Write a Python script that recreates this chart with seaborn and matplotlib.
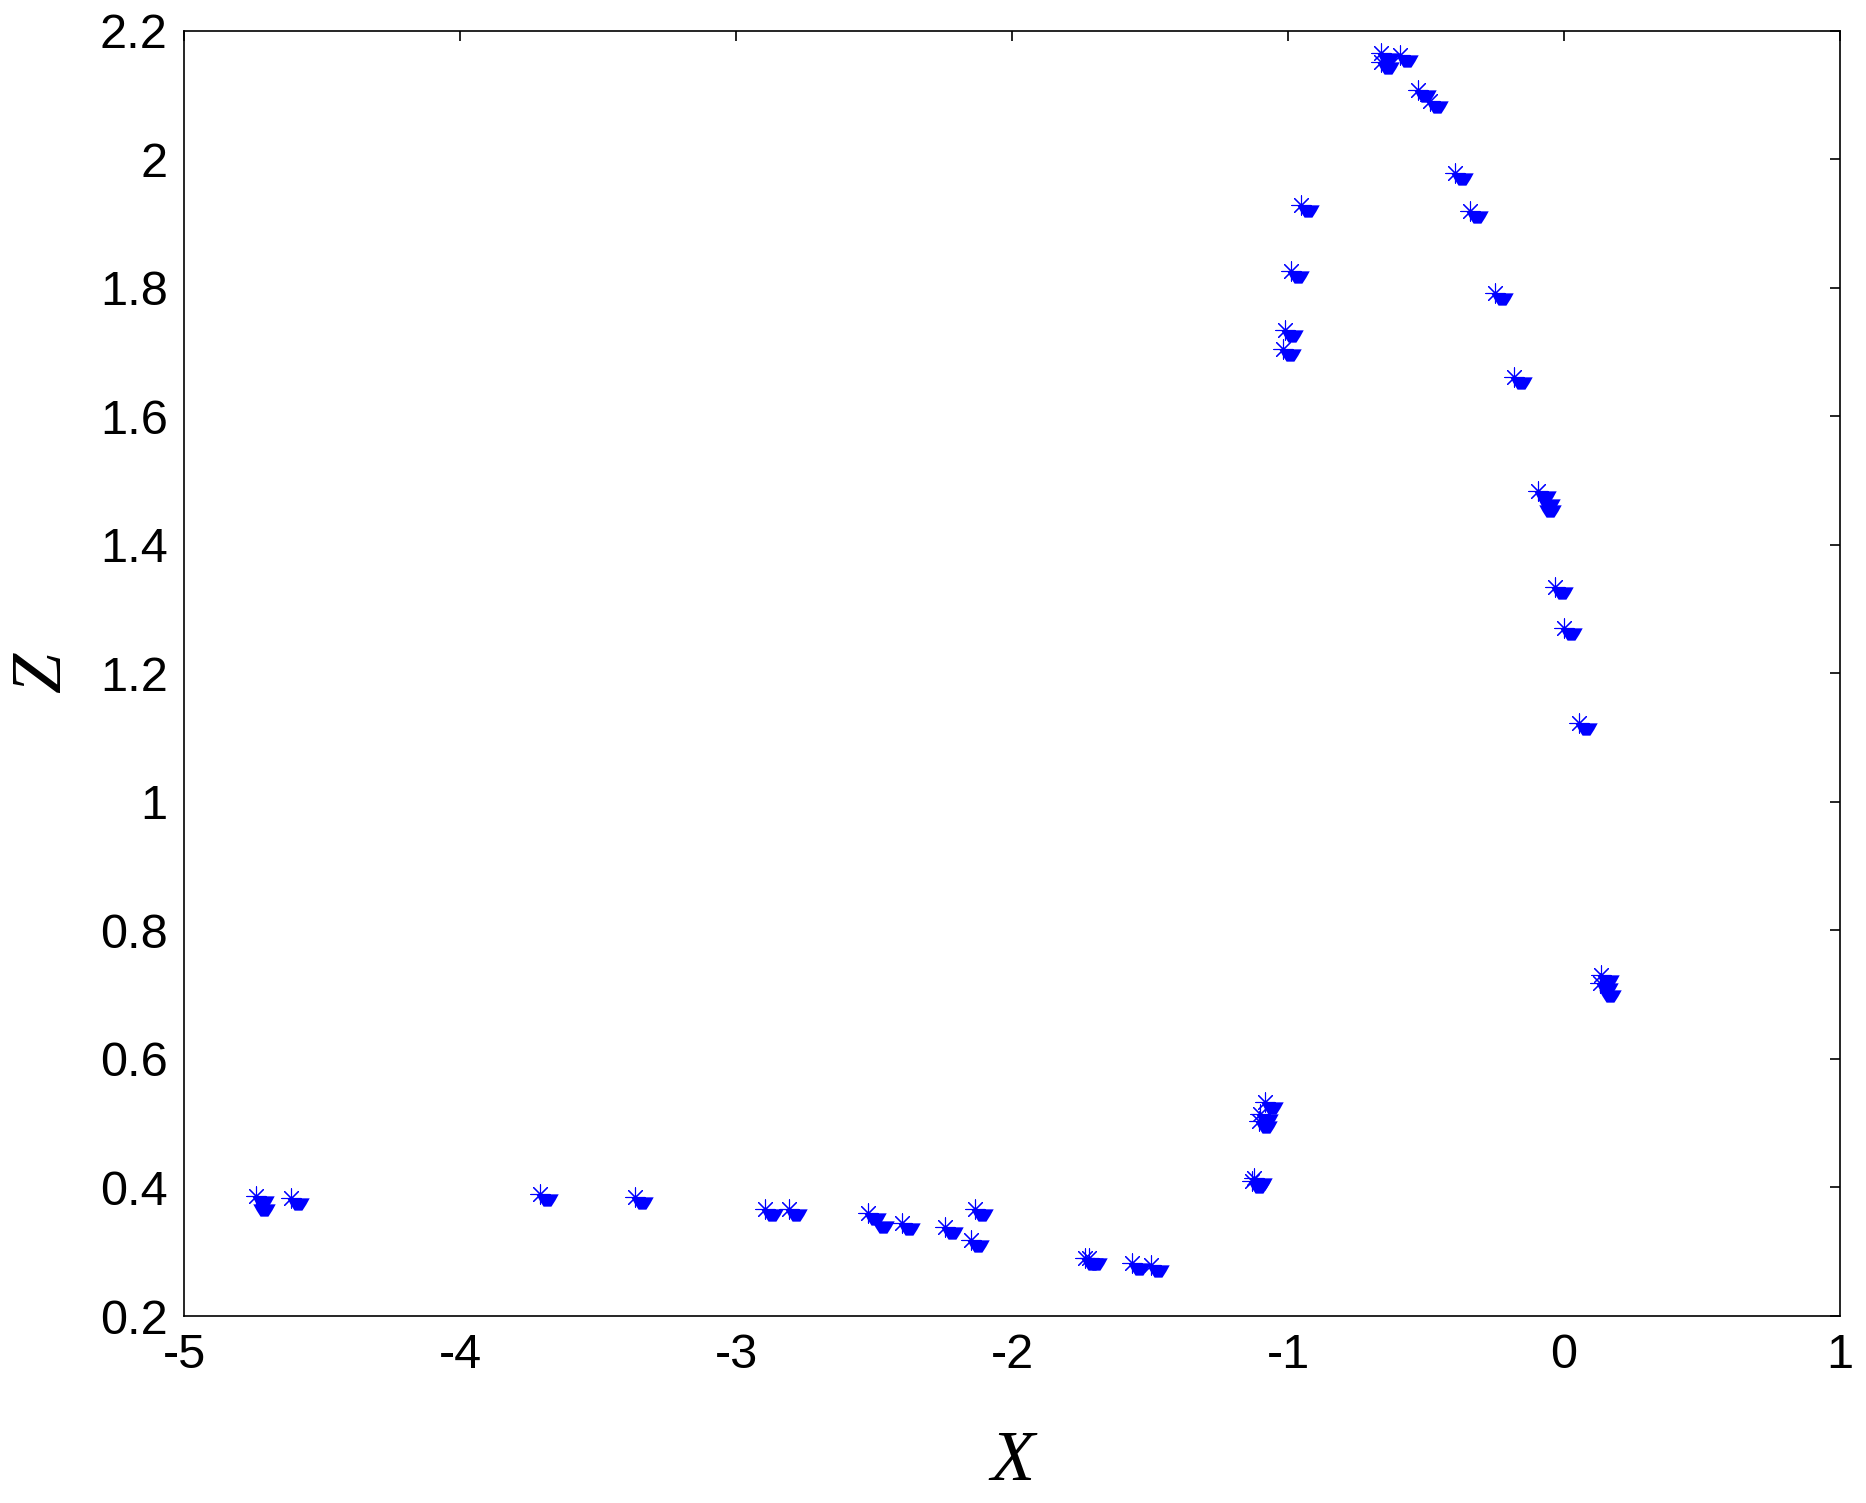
import numpy as np
import matplotlib
matplotlib.use('Agg')
import matplotlib.pyplot as plt
import matplotlib.transforms as mtransforms
import seaborn as sns

x_star = [-4.740, -4.614, -3.712, -3.367, -2.895, -2.810, -2.522, -2.398, -2.244,
          -2.135, -2.150, -1.735, -1.720, -1.566, -1.497, -1.124, -1.132,
          -1.106, -1.100, -1.082, -1.019, -1.010, -0.988, -0.954,
          -0.664, -0.664, -0.594, -0.528, -0.487, -0.396, -0.340, -0.250,
          -0.181, -0.094, -0.034, 0.000, 0.056, 0.136, 0.131]
z_star = [0.386, 0.384, 0.390, 0.385, 0.367, 0.367, 0.361, 0.344, 0.338,
          0.367, 0.319, 0.290, 0.291, 0.283, 0.279, 0.414, 0.410,
          0.503, 0.515, 0.533, 1.705, 1.735, 1.826, 1.929,
          2.166, 2.152, 2.162, 2.108, 2.090, 1.979, 1.920, 1.792,
          1.661, 1.483, 1.335, 1.270, 1.122, 0.731, 0.718]

# extra filled marks that have no star on top
x_extra = [-4.735, -2.495, -0.080, -0.075, 0.140]
z_extra = [0.374, 0.348, 1.472, 1.462, 0.708]

x_ticks = [-5, -4, -3, -2, -1, 0, 1]
z_ticks = [0.2, 0.4, 0.6, 0.8, 1.0, 1.2, 1.4, 1.6, 1.8, 2.0, 2.2]

sns.set_style('white')
plt.rcParams['font.family'] = ['Liberation Sans', 'DejaVu Sans']

fig = plt.figure(figsize=(18.66, 15.03), dpi=100)
ax = fig.add_axes([0.0988, 0.1244, 0.8872, 0.8552])

# blob marker sits just below-right of each star
blob = [(-1.0, 0.55), (1.0, 0.55), (0.7, 0.0), (0.35, -0.55), (-0.35, -0.55), (-0.7, 0.0)]
shift = mtransforms.ScaledTranslation(0.07, -0.06, fig.dpi_scale_trans)

x_blob = x_star + x_extra
z_blob = z_star + z_extra
sns.scatterplot(x=x_blob, y=z_blob, ax=ax, marker=blob, s=260, color='#0000ff',
                edgecolor='#0000ff', linewidth=0, transform=ax.transData + shift, zorder=3)
sns.scatterplot(x=x_star, y=z_star, ax=ax, marker=(8, 2, 0), s=190, color='#0000ff',
                edgecolor='#0000ff', linewidth=0.8, zorder=4)

ax.set_xlim(-5, 1)
ax.set_ylim(0.2, 2.2)
ax.set_xticks(x_ticks)
ax.set_yticks(z_ticks)
ax.set_xticklabels(['%g' % v for v in x_ticks])
ax.set_yticklabels(['%g' % v for v in z_ticks])
ax.tick_params(direction='in', length=7, width=1.2, top=True, right=True,
               labelsize=35, pad=12, colors='black')

for s in ax.spines.values():
    s.set_color('black')
    s.set_linewidth(1.2)

ax.set_xlabel('X', fontsize=52, family=['Liberation Serif'], style='italic',
              labelpad=38, color='black')
ax.set_ylabel('Z', fontsize=52, family=['Liberation Serif'], style='italic',
              labelpad=18, color='black')

fig.savefig('out.png', dpi=100)
